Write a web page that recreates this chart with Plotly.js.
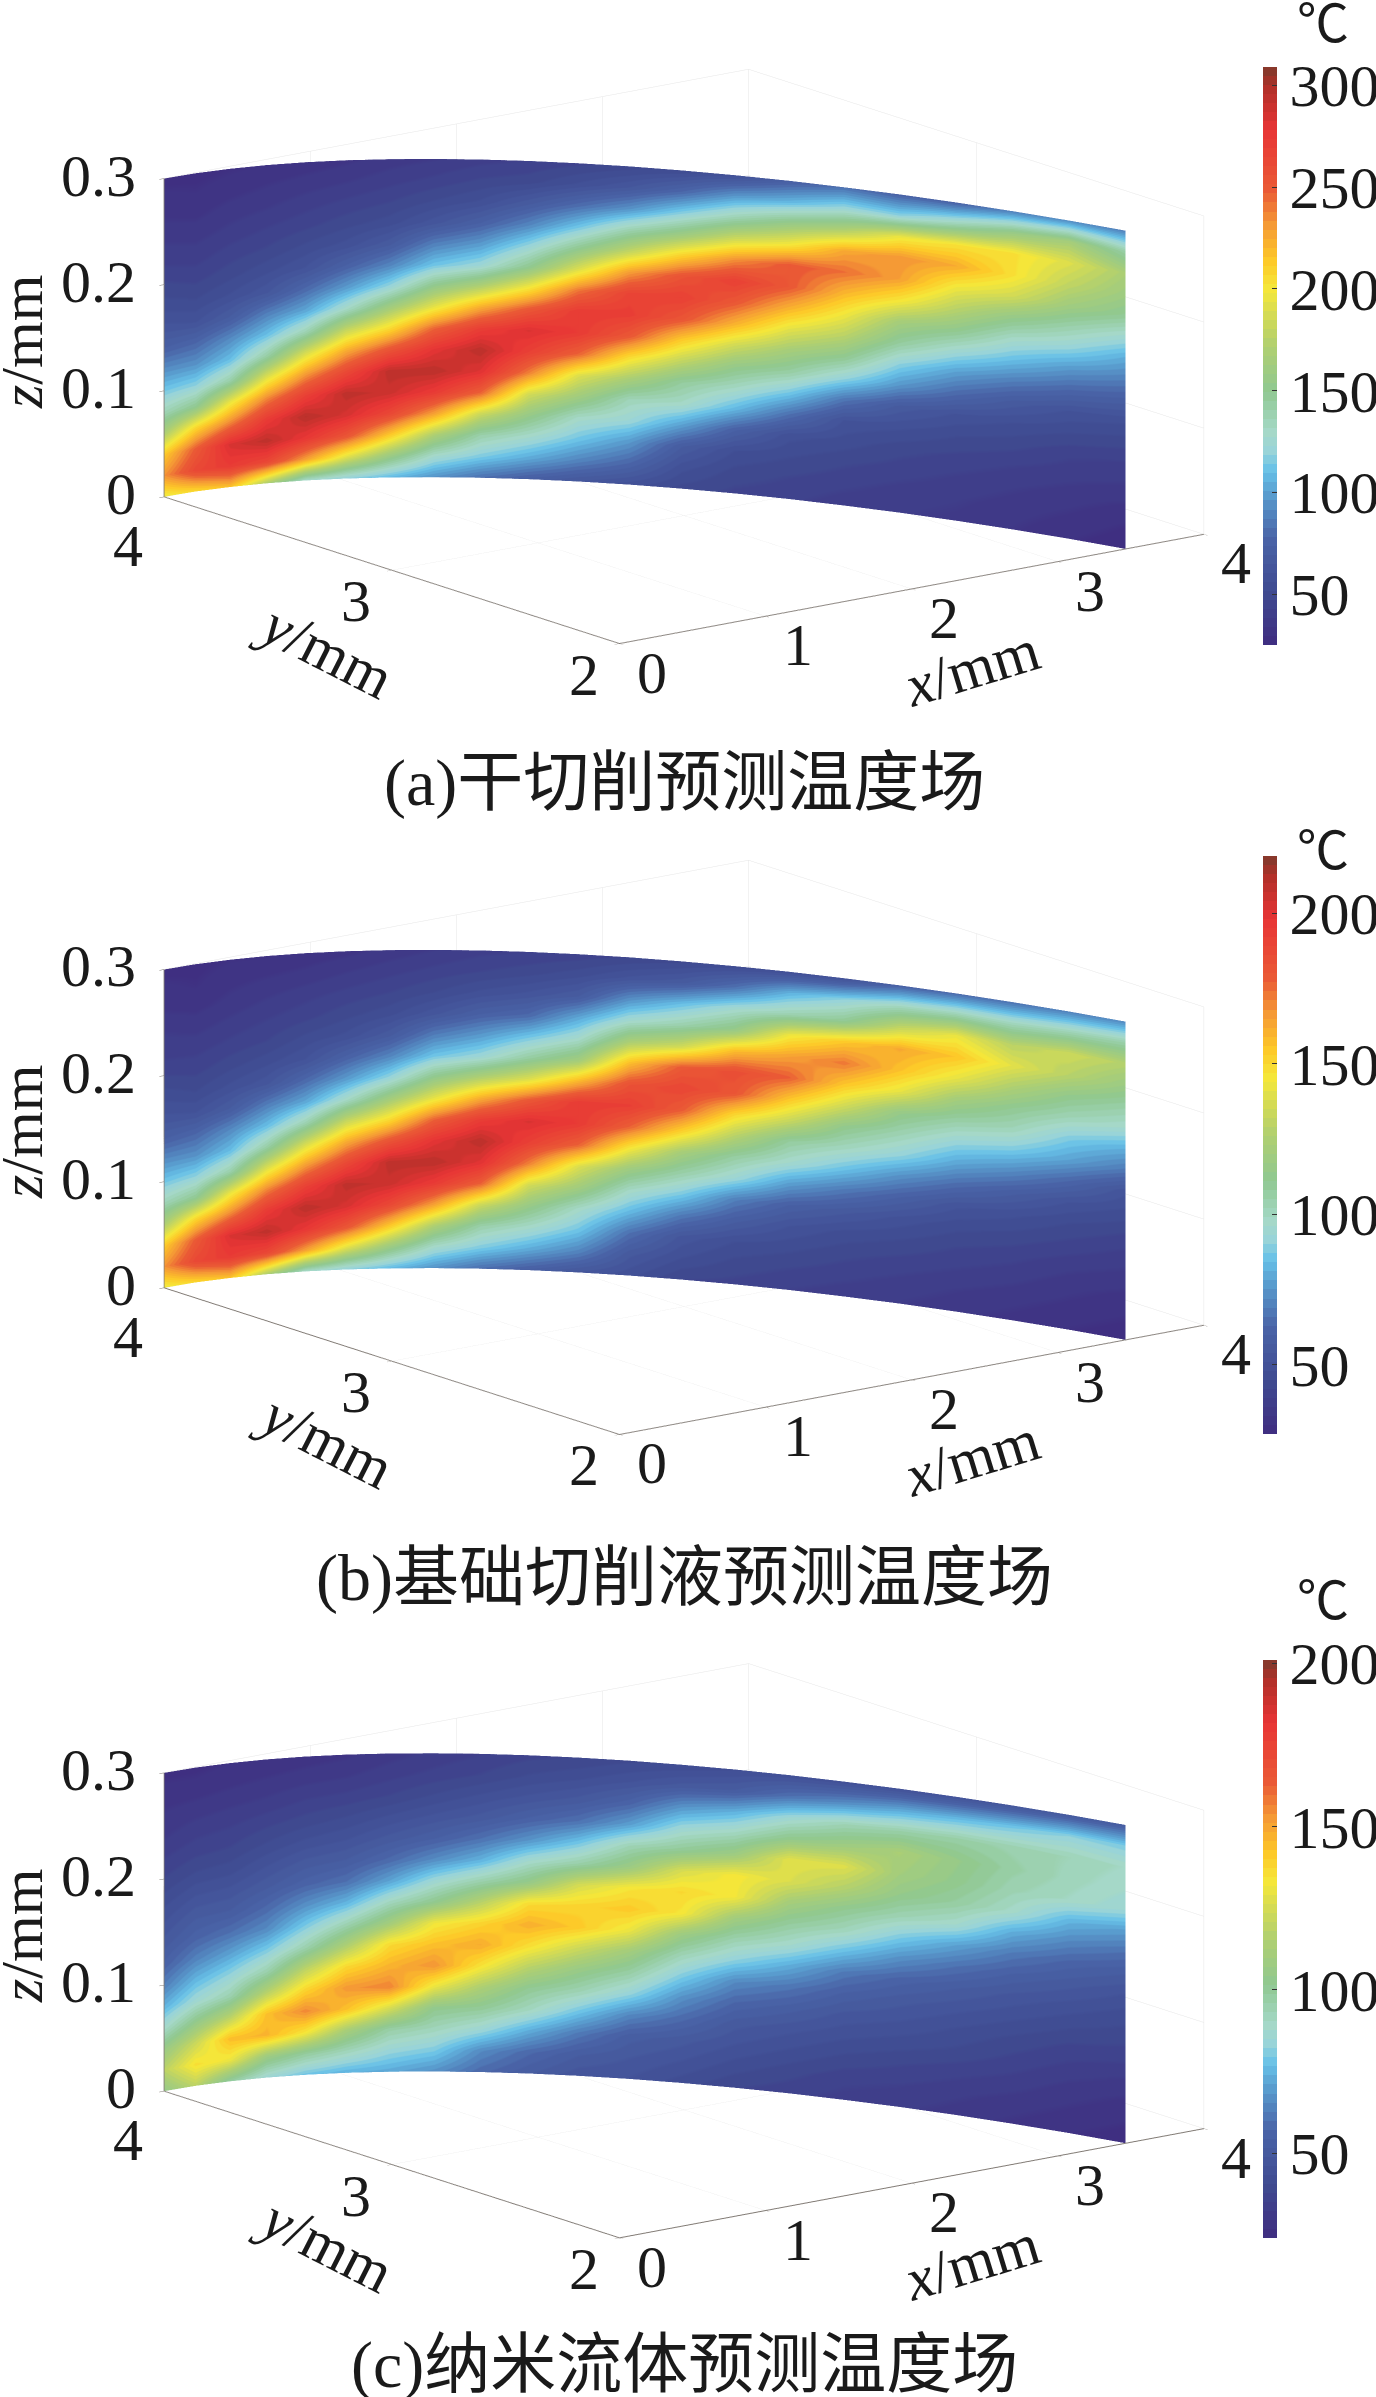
<!DOCTYPE html>
<html><head><meta charset="utf-8"><script src="https://cdn.plot.ly/plotly-3.0.1.min.js"></script>
<style>html,body{margin:0;padding:0;background:#fff;overflow:hidden}</style></head><body><div id="chart" style="width:1376px;height:2397px"></div>
<script>
var xStations=[0,.209,.418,.626,.832,1.035,1.236,1.433,1.627,1.816,2,2.179,2.351,2.517,2.677,2.828,2.973,3.109,3.236,3.355,3.464];
var yStations=[4,3.995,3.978,3.951,3.913,3.864,3.804,3.734,3.654,3.564,3.464,3.355,3.236,3.109,2.973,2.828,2.677,2.517,2.351,2.179,2];
var zLevels=[0,.02,.04,.06,.08,.1,.12,.14,.16,.18,.2,.22,.24,.26,.28,.3];
var tempA=[
[195,232,212,168,136,113,93,74,62,54,48,42,38,34,31,28],
[205,262,248,207,150,118,95,78,60,52,46,41,37,33,30,28],
[215,272,283,237,195,141,110,92,70,57,50,45,40,36,32,29],
[170,262,293,272,235,190,142,110,88,64,55,48,43,38,34,30],
[128,228,275,295,268,230,187,137,102,80,61,53,46,41,36,31],
[118,190,252,284,293,262,225,180,130,98,75,58,50,44,38,33],
[108,158,213,262,288,293,253,206,163,120,90,68,54,47,41,36],
[95,128,170,228,272,294,278,245,194,153,112,88,63,52,44,38],
[82,115,140,182,245,280,294,270,225,172,123,98,74,57,48,41],
[72,103,128,155,185,237,268,282,250,200,150,120,90,68,50,43],
[64,90,112,130,162,190,245,272,272,240,189,149,112,81,57,46],
[58,78,97,122,135,168,205,250,270,265,229,178,138,95,65,49],
[50,58,70,100,130,145,178,212,252,268,253,208,158,116,78,52],
[46,50,56,75,108,132,155,185,222,250,268,233,183,137,97,58],
[44,47,52,58,83,113,143,165,192,222,250,250,198,155,107,72],
[40,44,48,54,60,85,120,150,175,197,220,242,225,170,122,82],
[39,41,45,49,57,68,96,118,145,165,200,228,232,195,118,75],
[37,39,42,46,52,60,80,100,125,152,175,197,224,202,135,75],
[34,36,39,43,49,56,68,88,110,130,155,185,203,203,155,88],
[30,33,36,40,44,52,60,78,97,120,140,162,178,190,165,92],
[26,29,33,38,42,49,57,72,88,104,125,148,160,168,142,88]];
var tempB=[
[142,167,153,124,102,86,73,60,52,47,42,38,36,33,31,29],
[149,187,178,150,111,90,74,63,51,45,41,38,35,32,30,29],
[155,194,201,170,142,105,84,72,57,49,44,40,37,34,32,30],
[125,187,208,194,169,138,106,84,69,53,47,42,39,36,33,30],
[97,164,196,209,191,165,136,103,79,64,51,46,41,38,34,31],
[90,138,180,202,208,187,162,132,98,76,61,49,44,40,36,32],
[83,117,154,187,205,208,181,149,120,91,71,56,47,42,38,34],
[74,97,125,164,194,209,198,176,141,113,86,69,53,45,40,36],
[65,88,105,133,176,199,209,193,162,126,93,76,60,49,42,38],
[59,80,97,115,135,170,191,201,179,138,107,86,64,52,44,39],
[53,71,86,98,120,138,176,194,194,159,120,97,79,57,47,40],
[49,55,66,83,98,118,145,176,192,182,157,124,96,74,52,42],
[42,48,53,68,87,105,122,152,178,188,178,134,104,84,56,44],
[41,44,48,58,70,93,107,128,150,180,184,157,115,95,66,46],
[39,42,46,51,60,77,96,108,133,155,177,164,143,103,81,48],
[37,40,43,47,55,68,85,100,113,135,155,172,154,110,90,50],
[36,38,41,45,50,60,74,91,103,115,141,156,162,131,100,60],
[34,36,39,42,46,52,65,79,92,106,121,141,155,142,103,64],
[32,34,37,40,44,49,58,72,87,101,111,125,140,128,100,66],
[30,32,34,37,41,45,51,63,78,88,102,113,128,134,103,70],
[28,30,32,35,38,42,47,52,68,81,96,106,117,127,105,72]];
var tempC=[
[105,118,106,88,74,63,55,50,46,42,38,35,32,30,28,26],
[118,135,122,104,86,75,64,56,51,46,41,37,34,31,28,26],
[98,130,144,118,95,83,71,60,52,47,42,38,35,32,29,27],
[85,108,146,143,117,95,80,66,58,51,46,41,37,33,30,27],
[78,99,133,155,138,118,95,80,67,56,50,44,39,35,31,28],
[74,92,112,143,152,137,114,94,75,60,52,46,41,36,32,29],
[72,84,97,125,156,146,136,110,91,71,58,50,44,38,34,31],
[67,80,92,103,130,153,143,131,102,85,66,54,47,41,36,33],
[58,66,85,100,114,134,148,138,117,95,74,60,50,44,38,35],
[52,58,73,91,101,117,135,147,136,105,88,68,55,47,41,37],
[47,52,62,78,94,106,122,141,138,124,96,78,60,50,43,38],
[46,49,53,65,83,97,110,130,141,133,107,93,70,56,46,40],
[42,46,50,58,67,80,93,108,133,137,125,100,85,68,50,41],
[38,42,46,50,57,66,82,95,110,132,133,108,91,74,52,43],
[36,39,43,47,53,61,73,88,99,111,126,128,103,85,60,44],
[34,36,40,44,48,54,62,77,92,102,116,127,108,93,66,44],
[33,35,38,42,46,50,56,67,80,94,104,110,113,96,72,45],
[31,33,36,40,43,47,52,60,71,88,98,103,105,97,75,46],
[29,31,34,37,40,44,48,54,62,73,89,94,97,95,78,48],
[27,29,31,34,37,41,45,50,56,65,75,90,92,93,82,50],
[25,27,29,32,36,39,42,46,52,60,70,85,88,90,80,52]];
var tickZ=[0,.1,.2,.3],tickX=[0,1,2,3,4],tickY=[2,3,4];
var barTicksA=[50,100,150,200,250,300],barTicksB=[50,100,150,200],barTicksC=[50,100,150,200];
var anchors=[[0,'#3f2c80'],[.09,'#3f4a90'],[.187,'#4a64a8'],[.262,'#5a9fd0'],[.30,'#66c0e8'],[.337,'#9ad5d8'],[.367,'#a5d8c8'],[.44,'#90c890'],[.517,'#b0d070'],[.577,'#d8dc50'],[.614,'#f5e83a'],[.667,'#fdc828'],[.727,'#f59a35'],[.787,'#ea5a35'],[.89,'#e83535'],[.966,'#b03028'],[1,'#7e3a2c']];
function h2r(h){return [1,3,5].map(function(i){return parseInt(h.substr(i,2),16)})}
function colorAt(f){for(var i=1;i<anchors.length;i++){if(f<=anchors[i][0]){var a=anchors[i-1],b=anchors[i],t=(f-a[0])/(b[0]-a[0]),p=h2r(a[1]),q=h2r(b[1]);return 'rgb('+p.map(function(v,k){return Math.round(v+(q[k]-v)*t)}).join(',')+')'}}return anchors[anchors.length-1][1]}
var N=64,cs=[];for(var i=0;i<N;i++){var c=colorAt((i+.5)/N);cs.push([i/N,c]);cs.push([(i+1)/N,c])}
function transpose(m){return m[0].map(function(_,r){return m.map(function(col){return col[r]})})}
var F='"Liberation Serif","Noto Sans CJK SC",serif',FS=60,TC='#1a1a1a';
var W=1376,H=2397;
var traces=[],layout={width:W,height:H,margin:{l:0,r:0,t:0,b:0,autoexpand:false},paper_bgcolor:'#fff',showlegend:false,annotations:[]};
function axis(r,tv){return {range:r,tickvals:tv,showticklabels:false,title:{text:''},showbackground:false,showgrid:true,gridcolor:'#e6e6e6',gridwidth:1,showline:true,linecolor:'#807a74',linewidth:2,ticks:'outside',ticklen:6,tickcolor:'#807a74',zeroline:false,showspikes:false}}
var Sc=1207,D=3.572;
var dir=[-.5875,-.7712,.2454],rv=[.7955,-.606,0],uv=[.1487,.1952,.9695];
function panel(name,temp,cmin,cmax,barTicks,barTop,barBot,cy,dy,unitY,caption,capY){
 var xM=zLevels.map(function(){return xStations}),yM=zLevels.map(function(){return yStations}),zM=zLevels.map(function(l){return xStations.map(function(){return l})});
 traces.push({type:'surface',scene:name,x:xM,y:yM,z:zM,surfacecolor:transpose(temp),cmin:cmin,cmax:cmax,cauto:false,colorscale:cs,hoverinfo:'skip',lighting:{ambient:1,diffuse:0,specular:0,roughness:1,fresnel:0},
  colorbar:{xref:'container',yref:'container',x:1263/W,xanchor:'left',y:1-(barTop+barBot)/2/H,yanchor:'middle',len:(barBot-barTop)/H,lenmode:'fraction',thickness:14,thicknessmode:'pixels',xpad:0,ypad:0,outlinewidth:0,ticks:'inside',ticklen:5,tickcolor:'#333',tickvals:barTicks,ticktext:barTicks.map(String),tickfont:{family:F,size:FS,color:TC}}});
 var cx=684;
 var cr=(W/2-cx)/Sc,cu=-(H/2-cy)/Sc;
 var cen=[0,1,2].map(function(k){return cr*rv[k]+cu*uv[k]});
 var eye=[0,1,2].map(function(k){return cen[k]+D*dir[k]});
 var anns=[];
 var fnt={family:F,size:FS,color:TC};
 tickX.forEach(function(v){anns.push({x:v,y:2,z:0,text:String(v),showarrow:false,xanchor:'center',yanchor:'middle',xshift:32,yshift:-29,font:fnt})});
 tickY.forEach(function(v){anns.push({x:0,y:v,z:0,text:String(v),showarrow:false,xanchor:'center',yanchor:'middle',xshift:-36,yshift:v==4?-49:-31,font:fnt})});
 tickZ.forEach(function(v){anns.push({x:0,y:4,z:v,text:String(v),showarrow:false,xanchor:'right',yanchor:'middle',xshift:-26,yshift:3,font:fnt})});
 layout[name]={domain:{x:[0,1],y:[0,1]},aspectmode:'manual',aspectratio:{x:.613,y:.627,z:.274},
  camera:{projection:{type:'orthographic'},eye:{x:eye[0],y:eye[1],z:eye[2]},center:{x:cen[0],y:cen[1],z:cen[2]},up:{x:0,y:0,z:1}},
  xaxis:axis([0,4],tickX),yaxis:axis([2,4],tickY),zaxis:axis([0,.3],tickZ),annotations:anns,bgcolor:'rgba(0,0,0,0)'};
 function pa(x,y,t,a,sz){layout.annotations.push({xref:'paper',yref:'paper',x:x/W,y:1-y/H,text:t,textangle:a||0,showarrow:false,xanchor:'center',yanchor:'middle',font:{family:F,size:sz||FS,color:TC}})}
 pa(22,342+dy,'<i>z</i>/mm',-90);pa(325,650+dy,'<i>y</i>/mm',27);pa(972,668+dy,'<i>x</i>/mm',-17);pa(1323,unitY,'℃',0,52);pa(684,capY,caption,0,66);
}
panel('scene',tempA,25,309,barTicksA,67,645,350.5,0,25,'(a)干切削预测温度场',783);
panel('scene2',tempB,27,219,barTicksB,856,1434,1147,790,852,'(b)基础切削液预测温度场',1578);
panel('scene3',tempC,24,201,barTicksC,1660,2238,1956,1594,1602,'(c)纳米流体预测温度场',2365);
Plotly.newPlot('chart',traces,layout,{displayModeBar:false});
</script></body></html>
